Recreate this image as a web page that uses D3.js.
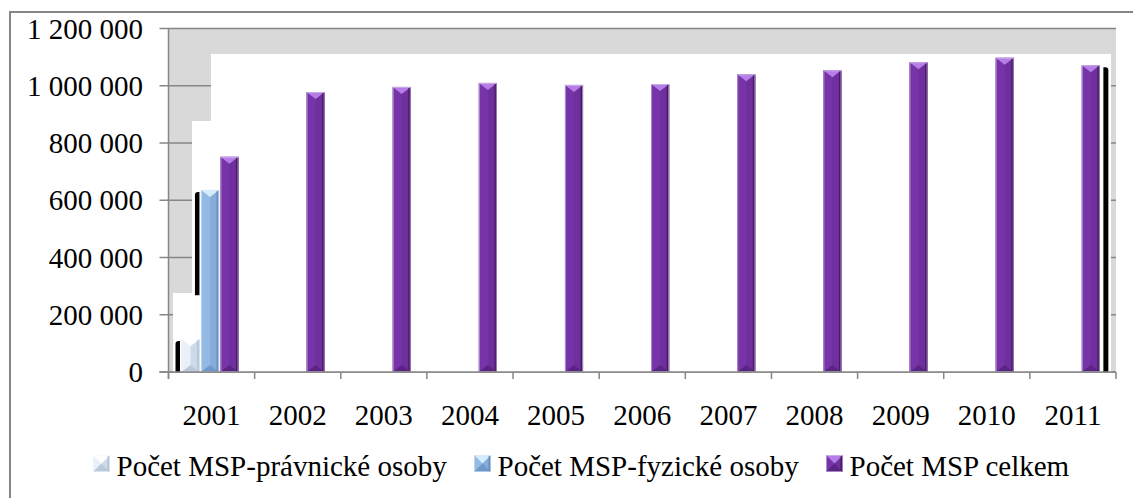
<!DOCTYPE html>
<html><head><meta charset="utf-8">
<script src="https://cdn.jsdelivr.net/npm/d3@7"></script>
<style>
html,body{margin:0;padding:0;background:#fff;}
svg{display:block;}
</style></head>
<body>
<svg id="c" width="1133" height="498"></svg>
<script>
// ---- data ----
const years = ["2001","2002","2003","2004","2005","2006","2007","2008","2009","2010","2011"];
const seriesNames = ["Počet MSP-právnické osoby","Počet MSP-fyzické osoby","Počet MSP celkem"];
const pravnicke = [115000, null, null, null, null, null, null, null, null, null, null];
const fyzicke   = [636000, null, null, null, null, null, null, null, null, null, null];
const celkem    = [752000, 978000, 996000, 1010000, 1003000, 1006000, 1040000, 1054000, 1082000, 1098000, 1072000];
const yTicks = [0, 200000, 400000, 600000, 800000, 1000000, 1200000];

// ---- styles ----
const FONT = '"Liberation Serif"';
const palettes = [
  {top:"#ffffff", left:"#e9f0f8", right:"#cfdae8", bottom:"#b9c8da", edge:"#a9b8cc", line:"#f4f7fb"},
  {top:"#d5ecfb", left:"#93b9e5", right:"#86acd9", bottom:"#6f97c8", edge:"#5f86b8", line:"#dbe8f6"},
  {top:"#b47ee6", left:"#7634a8", right:"#6f2f9d", bottom:"#5a2482", edge:"#3b1559", line:"#d9cce6"}
];

const svg = d3.select("#c");
const plotL = 168.5, plotR = 1116, plotT = 28.5, plotB = 372;

const y = d3.scaleLinear().domain([0, 1200000]).range([plotB, plotT]);
const x = d3.scaleBand().domain(years).range([plotL, plotR]).padding(0);
const xs = d3.scaleBand().domain(d3.range(seriesNames.length)).range([13, 70]).paddingInner(0.07);

const loc = d3.formatLocale({decimal:",", thousands:" ", grouping:[3], currency:["",""]});
const fmt = loc.format(",");

// outer frame (partially visible)
svg.append("line").attr("x1",10).attr("x2",10).attr("y1",12).attr("y2",498)
  .attr("stroke","#868686").attr("stroke-width",2);
svg.append("line").attr("x1",9).attr("x2",1133).attr("y1",12).attr("y2",12)
  .attr("stroke","#868686").attr("stroke-width",2);

// plot background (grey)
svg.append("rect").attr("x",plotL).attr("y",plotT).attr("width",plotR-plotL).attr("height",plotB-plotT)
  .attr("fill","#d9d9d9");

// gridlines
svg.append("g").selectAll("line").data(yTicks).join("line")
  .attr("x1",plotL-9).attr("x2",plotR).attr("y1",d=>y(d)).attr("y2",d=>y(d))
  .attr("stroke","#868686").attr("stroke-width",1.5);

// white stepped regions (rendering artefact of the original)
const whites = [
  {x0:211, x1:1111, y0:54,  y1:plotB},
  {x0:192, x1:211,  y0:121, y1:plotB},
  {x0:173, x1:192,  y0:293, y1:plotB}
];
svg.append("g").selectAll("rect").data(whites).join("rect")
  .attr("x",d=>d.x0).attr("y",d=>d.y0).attr("width",d=>d.x1-d.x0).attr("height",d=>d.y1-d.y0)
  .attr("fill","#fff");

// shadows (black artefacts)
const shadows = [
  {s:0, yi:0, side:-1, bottom:0},
  {s:1, yi:0, side:-1, bottom:268000},
  {s:2, yi:10, side:1, bottom:0}
];
const seriesVals = [pravnicke, fyzicke, celkem];
svg.append("g").selectAll("path").data(shadows).join("path")
  .attr("fill","#000")
  .attr("d", d => {
    const bx = x(years[d.yi]) + xs(d.s);
    const w = xs.bandwidth();
    const sx = d.side < 0 ? bx - 6 : bx + w + 3.5;
    const sw = d.side < 0 ? 4.5 : 5;
    const top = y(seriesVals[d.s][d.yi]) + 2;
    const bot = y(d.bottom);
    const r = 3;
    if (d.side < 0) {
      return `M${sx},${bot}L${sx},${top+r}Q${sx},${top} ${sx+r},${top}L${sx+sw},${top}L${sx+sw},${bot}Z`;
    }
    return `M${sx},${bot}L${sx},${top}L${sx+sw-r},${top}Q${sx+sw},${top} ${sx+sw},${top+r}L${sx+sw},${bot}Z`;
  });

// bevelled bar drawing
function bevel(g, bx, by, w, h, p, dyMax) {
  const dy = Math.min(dyMax, h/2);
  const cx = bx + w/2;
  g.append("rect").attr("x",bx).attr("y",by).attr("width",w).attr("height",h).attr("fill",p.left);
  g.append("polygon").attr("points",`${bx},${by} ${cx},${by+dy} ${cx},${by+h-dy} ${bx},${by+h}`).attr("fill",p.left);
  g.append("polygon").attr("points",`${bx+w},${by} ${cx},${by+dy} ${cx},${by+h-dy} ${bx+w},${by+h}`).attr("fill",p.right);
  g.append("polygon").attr("points",`${bx},${by} ${bx+w},${by} ${cx},${by+dy}`).attr("fill",p.top);
  g.append("polygon").attr("points",`${bx},${by+h} ${bx+w},${by+h} ${cx},${by+h-dy}`).attr("fill",p.bottom);
  g.append("rect").attr("x",bx+w-2.5).attr("y",by+1).attr("width",2.5).attr("height",Math.max(0,h-1)).attr("fill",p.edge).attr("opacity",0.75);
  g.append("rect").attr("x",bx+0.5).attr("y",by+0.5).attr("width",w-1).attr("height",Math.max(0,h-1))
    .attr("fill","none").attr("stroke",p.line).attr("stroke-opacity",0.6).attr("stroke-width",1);
}

const barsG = svg.append("g");
seriesVals.forEach((vals, s) => {
  vals.forEach((v, i) => {
    if (v == null) return;
    const g = barsG.append("g");
    const bx = x(years[i]) + xs(s);
    bevel(g, bx, y(v), xs.bandwidth(), y(0) - y(v), palettes[s], 7);
  });
});

// axes
const yAxis = svg.append("g");
yAxis.append("line").attr("x1",plotL).attr("x2",plotL).attr("y1",plotT).attr("y2",plotB+7)
  .attr("stroke","#868686").attr("stroke-width",1.5);
yAxis.selectAll("text").data(yTicks).join("text")
  .attr("x",143).attr("y",d=>y(d)+10).attr("text-anchor","end")
  .style("font-family",FONT).style("font-size","29px").attr("fill","#000").text(d=>fmt(d));

const xAxis = svg.append("g");
xAxis.append("line").attr("x1",plotL-9).attr("x2",plotR).attr("y1",plotB).attr("y2",plotB)
  .attr("stroke","#868686").attr("stroke-width",1.5);
const bounds = years.map(d => x(d)).concat([plotR]);
xAxis.selectAll("line.t").data(bounds).join("line").attr("class","t")
  .attr("x1",d=>d).attr("x2",d=>d).attr("y1",plotB).attr("y2",plotB+7)
  .attr("stroke","#868686").attr("stroke-width",1.5);
xAxis.selectAll("text").data(years).join("text")
  .attr("x",d=>x(d)+x.bandwidth()/2).attr("y",425).attr("text-anchor","middle")
  .style("font-family",FONT).style("font-size","29px").attr("fill","#000").text(d=>d);

// legend
const legendX = [93, 474, 826];
const lg = svg.append("g");
seriesNames.forEach((name, s) => {
  const g = lg.append("g");
  bevel(g, legendX[s], 455, 17, 17, palettes[s], 8.5);
  g.append("text").attr("x", legendX[s] + 23.5).attr("y", 476)
    .style("font-family",FONT).style("font-size","29px").attr("fill","#000").text(name);
});
</script>
</body></html>
